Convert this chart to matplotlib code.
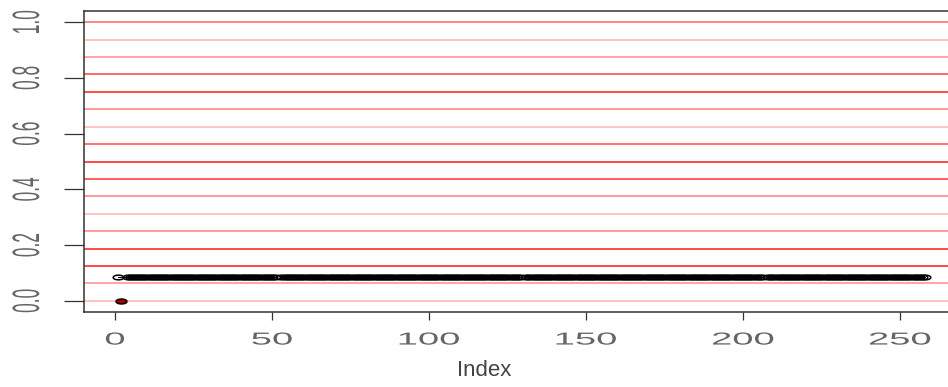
import numpy as np
import matplotlib
matplotlib.use("Agg")
import matplotlib.pyplot as plt
from matplotlib.patheffects import AbstractPathEffect
from matplotlib.transforms import Affine2D

# series: index positions and their values (gaps are missing values)
index = np.concatenate([[1], np.arange(4, 259)])
values = np.full(index.size, 0.085)
values[[49, 127, 204]] = np.nan   # indices 52, 130, 207

# single highlighted point on the zero line
hi_index = [2]
hi_value = [0.0]

# horizontal reference lines at k/16 and their red intensities
ref_levels = [k / 16 for k in range(17)]
ref_alpha = [0.30, 0.45, 0.90, 0.90, 0.50, 0.30, 0.50, 0.80, 0.90,
             0.70, 0.30, 0.50, 0.90, 0.75, 0.45, 0.30, 0.60]

xticks = [0, 50, 100, 150, 200, 250]
yticks = [0.0, 0.2, 0.4, 0.6, 0.8, 1.0]
ytick_labels = ["0.0", "0.2", "0.4", "0.6", "0.8", "1.0"]


class WideText(AbstractPathEffect):
    """Stretch text horizontally about its own centre."""

    def __init__(self, sx):
        super().__init__()
        self.sx = sx

    def draw_path(self, renderer, gc, tpath, affine, rgbFace=None):
        ext = tpath.get_extents(affine)
        cx = (ext.x0 + ext.x1) / 2
        stretch = Affine2D().translate(-cx, 0).scale(self.sx, 1).translate(cx, 0)
        renderer.draw_path(gc, tpath, affine + stretch, rgbFace)


plt.rcParams["font.family"] = ["Liberation Sans", "DejaVu Sans"]

fig = plt.figure(figsize=(9.48, 3.87), dpi=100)
ax = fig.add_axes([84 / 948, 75 / 387, 864 / 948, 301 / 387])

for lev, a in zip(ref_levels, ref_alpha):
    ax.axhline(lev, color="red", alpha=a, lw=1.1, zorder=1)

# wide open ellipse used as the point symbol
t = np.linspace(0, 2 * np.pi, 48)
ellipse = list(zip(2.3 * np.cos(t), np.sin(t)))

# thin connecting line plus the points
ax.plot(index, values, color="black", lw=0.8, marker=ellipse, ms=7.7,
        mfc="none", mec="black", mew=1.1, zorder=3)
# the dense run of points merges into a solid band
ax.plot(index[1:], values[1:], color="black", lw=2.6,
        solid_capstyle="butt", zorder=3)
ax.plot(hi_index, hi_value, ls="none", marker=ellipse, ms=7.7,
        mfc="#b00000", mec="#220000", mew=1.3, zorder=4)

ax.set_xlim(-9.87, 265.3)
ax.set_ylim(-0.04, 1.04)

ax.spines["right"].set_visible(False)
for s in ("left", "bottom", "top"):
    ax.spines[s].set_color("#333333")
    ax.spines[s].set_linewidth(1.1)

ax.set_xticks(xticks)
ax.set_xticklabels([str(v) for v in xticks])
ax.set_yticks(yticks)
ax.set_yticklabels(ytick_labels, rotation=90, va="center")

ax.tick_params(axis="x", length=5.8, width=0.9, color="#333333",
               labelsize=12.5, labelcolor="#666666", pad=9)
ax.tick_params(axis="y", length=14.4, width=0.9, color="#333333",
               labelsize=12.5, labelcolor="#666666", pad=21)

for lbl in ax.get_xticklabels() + ax.get_yticklabels():
    lbl.set_path_effects([WideText(2.2)])

ax.set_xlabel("Index", fontsize=16, color="#444444", va="center")
ax.xaxis.set_label_coords((484 - 84) / 864, (312 - 370) / 301)

fig.savefig("out.png", dpi=100)
